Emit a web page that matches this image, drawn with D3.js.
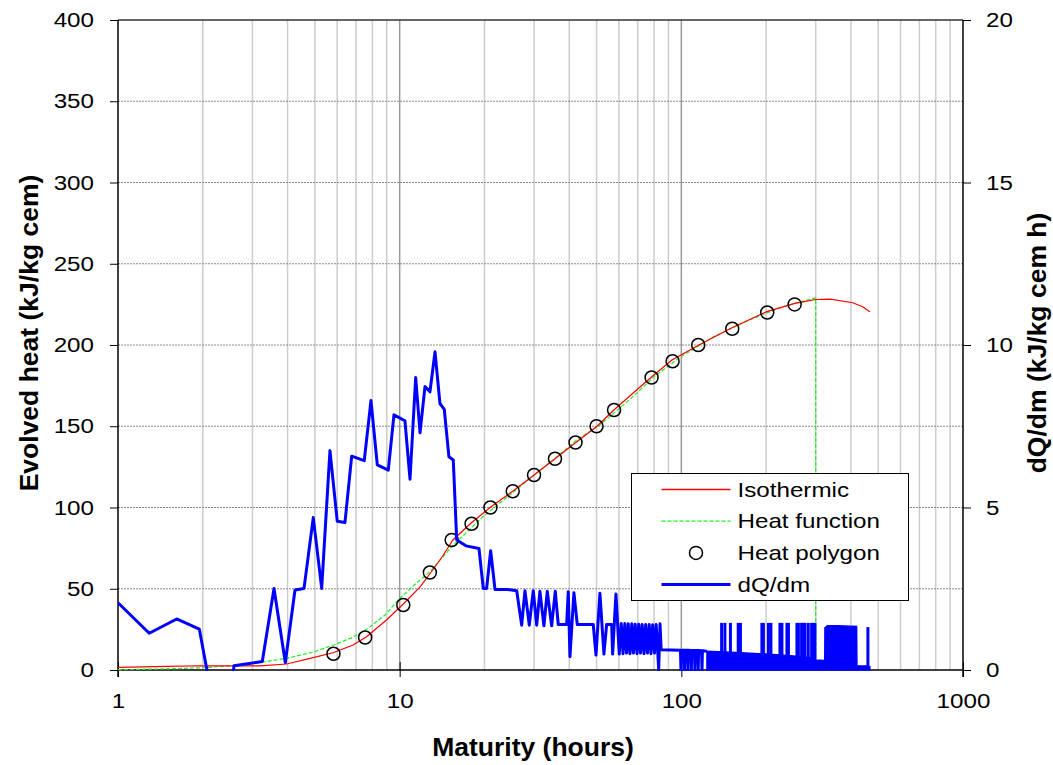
<!DOCTYPE html>
<html>
<head>
<meta charset="utf-8">
<script src="https://cdn.jsdelivr.net/npm/d3@7"></script>
<style>
  body { margin: 0; background: #fff; }
  svg text { font-family: "Liberation Sans", Arial, sans-serif; fill: #000; }
</style>
</head>
<body>
<svg id="chart" width="1053" height="765"></svg>
<script>
// Isothermic evolved heat, [maturity h, kJ/kg cem]
const isothermic = [[1,1.6],[1.5,2.2],[1.95,2.6],[2.56,2.5],[3.19,2.5],[3.97,3.7],[4.93,7.6],[5.8,10.6],[6.83,15.4],[7.63,20.5],[8.98,30.8],[10.3,40.6],[11.8,51],[12.9,60],[14.2,70],[15.45,80],[17.9,90.3],[21.1,100.5],[25.2,110],[30,120],[35.6,130],[42.2,140],[50.2,150],[57.6,160],[67,170],[78,180],[92.6,190.8],[115.5,200],[150,210.3],[201,220.5],[253,225.6],[300,228],[338,228.2],[406,226],[440,223.5],[467,220.5]];

// Fitted heat function, ends at m = 300 h with a drop to zero
const heatFunction = [[1,0.2],[1.5,0.7],[2,1.4],[2.56,2.6],[3.2,4.6],[3.97,7.2],[4.93,11],[5.83,15.4],[6.8,20],[7.63,25],[8.9,34],[10,44],[11.3,52.5],[12.8,60.5],[15.3,75.9],[19.75,94.3],[24.6,107.7],[29.6,119],[36,131],[42.5,141.5],[51.4,150.8],[67.1,168],[80,180.5],[100,193],[130,205],[170,214.5],[220,222.5],[260,226.2],[300,229],[300,0]];

// Heat polygon vertices
const heatPolygon = [[5.82,10],[7.54,20],[10.3,40],[12.8,60],[15.3,80],[18.0,90],[21.0,100],[25.2,110],[30.0,120],[35.6,130],[42.1,140],[50.0,150],[57.7,160],[78.4,180],[93.1,190],[114.8,200],[151.6,210],[201.8,220],[252.5,225]];

// Heat rate dQ/dm, [maturity h, kJ/kg cem h]
const dQdm = [[1,2.07],[1.291,1.13],[1.616,1.57],[1.944,1.26],[2.10,-0.3],[2.555,-0.3],[2.58,0.13],[3.253,0.26],[3.58,2.51],[3.926,0.23],[4.25,2.46],[4.575,2.51],[4.935,4.69],[5.286,2.51],[5.656,6.75],[6.003,4.58],[6.395,4.54],[6.755,6.58],[7.486,6.44],[7.909,8.29],[8.329,6.31],[9.111,6.15],[9.545,7.85],[10.44,7.67],[10.88,5.87],[11.40,9.0],[11.81,7.3],[12.30,8.72],[12.81,8.56],[13.35,9.79],[13.90,8.2],[14.40,8.02],[14.96,6.56],[15.50,6.46],[15.94,4.0],[17.20,3.82],[19.12,3.74],[19.81,2.51],[20.36,2.51],[21.04,3.67],[21.80,2.48],[23.98,2.48],[26.03,2.44],[27.11,1.38],[27.85,2.44],[28.85,1.38],[29.81,2.44],[30.65,1.38],[31.47,2.42],[32.52,1.36],[33.42,2.42],[34.64,1.36],[35.68,2.42],[36.56,1.40],[39.16,1.40],[39.68,2.41],[40.23,0.41],[41.56,2.38],[42.71,1.40],[48.68,1.40],[49.77,0.46],[51.40,2.36],[53.11,0.49],[54.30,1.40],[56.57,1.40],[57.03,0.49],[58.59,2.34],[60.19,0.49],
  [61.2,1.43],[62.1,0.50],[63.0,1.43],[63.9,0.52],[64.8,1.42],[65.7,0.50],[66.7,1.42],[67.6,0.52],[68.6,1.41],[69.6,0.50],[70.6,1.41],[71.6,0.52],[72.6,1.40],[73.7,0.50],[74.7,1.40],[75.8,0.52],[76.9,1.40],[78.0,0.50],[79.1,1.39],[80.3,0.52],[81.4,1.40],[82.4,0.62],[83.1,0],[84.0,1.42],[84.8,0.62],
  [99.3,0.61],[99.7,0],[100.1,0.61],[102.2,0.61],[102.6,0],[103.0,0.61],[105.1,0.61],[105.5,0],[105.9,0.61],[108.1,0.60],[108.5,0],[108.9,0.60],[111.3,0.60],[111.7,0],[112.1,0.60],[114.4,0.60],[114.8,0],[115.2,0.60],[118.0,0.59],[118.4,0],[118.8,0.59],[123.3,0.58]];

// Dense late-age rate oscillation: upper envelope above zero
const dQdmBand = [[123.3,0.58],[150,0.55],[200,0.49],[250,0.43],[290,0.37],[300,0.31],[323,0.29],[323.5,1.30],[330,1.36],[360,1.36],[400,1.35],[419,1.34],[420.2,0.13],[460,0.12],[467,0.10]];

// Isolated late-age rate spikes
const dQdmSpikes = [[139.0,1.45],[142.8,1.45],[149.4,1.45],[159.2,1.45],[162.1,1.45],[193.2,1.45],[195.6,1.45],[203.8,1.45],[208.0,1.45],[223.9,1.45],[227.6,1.45],[237.1,1.45],[240.0,1.45],[257.3,1.45],[260.4,1.45],[267.3,1.45],[270.9,1.45],[274.7,1.45],[282.2,1.45],[290.1,1.45],[293.9,1.45],[298.1,1.45],[459.6,1.32]];

const heatTicks = [0,50,100,150,200,250,300,350,400];
const rateTicks = [0,5,10,15,20];
const maturityTicks = [1,10,100,1000];

const legendItems = ["Isothermic","Heat function","Heat polygon","dQ/dm"];

const plotL = 118, plotR = 963, plotT = 20, plotB = 670;
const labelSize = 20.5, labelStretch = 1.18, titleSize = 26.5;

const svg = d3.select("#chart");
const x = d3.scaleLog().domain([1,1000]).range([plotL,plotR]);
const yL = d3.scaleLinear().domain([0,400]).range([plotB,plotT]);
const yR = d3.scaleLinear().domain([0,20]).range([plotB,plotT]);

svg.append("defs").append("clipPath").attr("id","plotClip")
  .append("rect").attr("x",plotL).attr("y",plotT).attr("width",plotR-plotL).attr("height",plotB-plotT+1);

// vertical grid: minor then major
const minor = [];
[1,10,100].forEach(d => { for (let k=2;k<=9;k++) minor.push(d*k); });
svg.append("g").selectAll("line").data(minor).join("line")
  .attr("x1",d=>x(d)).attr("x2",d=>x(d)).attr("y1",plotT).attr("y2",plotB)
  .attr("stroke","#cdcdcd").attr("stroke-width",1.5);
svg.append("g").selectAll("line").data([10,100]).join("line")
  .attr("x1",d=>x(d)).attr("x2",d=>x(d)).attr("y1",plotT).attr("y2",plotB)
  .attr("stroke","#9a9a9a").attr("stroke-width",1.5);

// horizontal dotted grid
svg.append("g").selectAll("line").data(heatTicks.slice(1,-1)).join("line")
  .attr("x1",plotL).attr("x2",plotR).attr("y1",d=>yL(d)).attr("y2",d=>yL(d))
  .attr("stroke","#8a8a8a").attr("stroke-width",1).attr("stroke-dasharray","2,1");
svg.append("line").attr("x1",plotL).attr("x2",plotR).attr("y1",yL(400)).attr("y2",yL(400))
  .attr("stroke","#333").attr("stroke-width",1.5);

// axes; tick labels are slightly widened
const axisStyle = g => {
  g.selectAll("text").attr("font-size",labelSize).attr("font-family",'"Liberation Sans", Arial, sans-serif')
    .each(function(){
      const t = d3.select(this);
      const tx = +t.attr("x") || 0;
      t.attr("x", tx/labelStretch).attr("transform",`scale(${labelStretch},1)`);
    });
  g.selectAll("line").attr("stroke","#000");
  g.select(".domain").remove();
};
svg.append("g").attr("transform",`translate(${plotL},0)`)
  .call(d3.axisLeft(yL).tickValues(heatTicks).tickSize(8).tickPadding(16).tickSizeOuter(0))
  .call(axisStyle);
svg.append("g").attr("transform",`translate(${plotR},0)`)
  .call(d3.axisRight(yR).tickValues(rateTicks).tickSize(8).tickPadding(15).tickSizeOuter(0))
  .call(axisStyle);
const xAxis = svg.append("g").attr("transform",`translate(0,${plotB})`)
  .call(d3.axisBottom(x).tickValues(maturityTicks).tickFormat(d3.format("d")).tickSize(7).tickPadding(16).tickSizeOuter(0))
  .call(axisStyle);
xAxis.selectAll(".tick line").attr("y1",-8);

// axis lines
svg.append("line").attr("x1",plotL).attr("x2",plotL).attr("y1",plotT).attr("y2",plotB+7).attr("stroke","#000").attr("stroke-width",1.5);
svg.append("line").attr("x1",plotR).attr("x2",plotR).attr("y1",plotT).attr("y2",plotB+7).attr("stroke","#000").attr("stroke-width",1.5);
svg.append("line").attr("x1",plotL).attr("x2",plotR).attr("y1",plotB).attr("y2",plotB).attr("stroke","#000").attr("stroke-width",1.5);

// axis titles
svg.append("text").attr("transform",`translate(38,333) rotate(-90)`)
  .attr("text-anchor","middle").attr("font-size",titleSize).attr("font-weight","bold").text("Evolved heat (kJ/kg cem)");
svg.append("text").attr("transform",`translate(1046,343) rotate(-90)`)
  .attr("text-anchor","middle").attr("font-size",titleSize).attr("font-weight","bold").text("dQ/dm (kJ/kg cem h)");
svg.append("text").attr("x",533).attr("y",756)
  .attr("text-anchor","middle").attr("font-size",titleSize).attr("font-weight","bold").text("Maturity (hours)");

// heat curves
const lineL = d3.line().x(d=>x(d[0])).y(d=>yL(d[1]));
svg.append("path").datum(heatFunction).attr("d",lineL)
  .attr("fill","none").attr("stroke","#22ee22").attr("stroke-width",1.2).attr("stroke-dasharray","4,2");
svg.append("path").datum(isothermic).attr("d",lineL)
  .attr("fill","none").attr("stroke","#ff0000").attr("stroke-width",1.2);
svg.append("g").selectAll("circle").data(heatPolygon).join("circle")
  .attr("cx",d=>x(d[0])).attr("cy",d=>yL(d[1])).attr("r",6.5)
  .attr("fill","none").attr("stroke","#000").attr("stroke-width",1.5);

// heat rate on the secondary axis
const rate = svg.append("g").attr("clip-path","url(#plotClip)");
rate.append("path").datum(dQdmBand)
  .attr("d",d3.area().x(d=>x(d[0])).y0(yR(0)).y1(d=>yR(d[1])))
  .attr("fill","#0000ff").attr("stroke","#0000ff").attr("stroke-width",1.5);
rate.append("g").selectAll("line").data(dQdmSpikes).join("line")
  .attr("x1",d=>x(d[0])).attr("x2",d=>x(d[0])).attr("y1",yR(0)).attr("y2",d=>yR(d[1]))
  .attr("stroke","#0000ff").attr("stroke-width",3);
rate.append("path").datum(dQdm)
  .attr("d",d3.line().x(d=>x(d[0])).y(d=>yR(d[1])))
  .attr("fill","none").attr("stroke","#0000ff").attr("stroke-width",3).attr("stroke-linejoin","round");

// legend
const lg = svg.append("g").attr("transform","translate(631.5,473.5)");
lg.append("rect").attr("width",277).attr("height",127).attr("fill","#fff").attr("stroke","#000").attr("stroke-width",1);
const rows = lg.selectAll("g").data(legendItems).join("g")
  .attr("transform",(d,i)=>`translate(0,${16 + i*31.7})`);
rows.append("text").attr("x",106/labelStretch).attr("y",7).attr("font-size",labelSize)
  .attr("transform",`scale(${labelStretch},1)`).text(d=>d);
rows.filter((d,i)=>i===0).append("line").attr("x1",30).attr("x2",99).attr("stroke","#ff0000").attr("stroke-width",1.5);
rows.filter((d,i)=>i===1).append("line").attr("x1",30).attr("x2",99).attr("stroke","#22ee22").attr("stroke-width",1.2).attr("stroke-dasharray","4,2");
rows.filter((d,i)=>i===2).append("circle").attr("cx",64.5).attr("r",6.5).attr("fill","none").attr("stroke","#000").attr("stroke-width",1.5);
rows.filter((d,i)=>i===3).append("line").attr("x1",30).attr("x2",99).attr("stroke","#0000ff").attr("stroke-width",3);
</script>
</body>
</html>
